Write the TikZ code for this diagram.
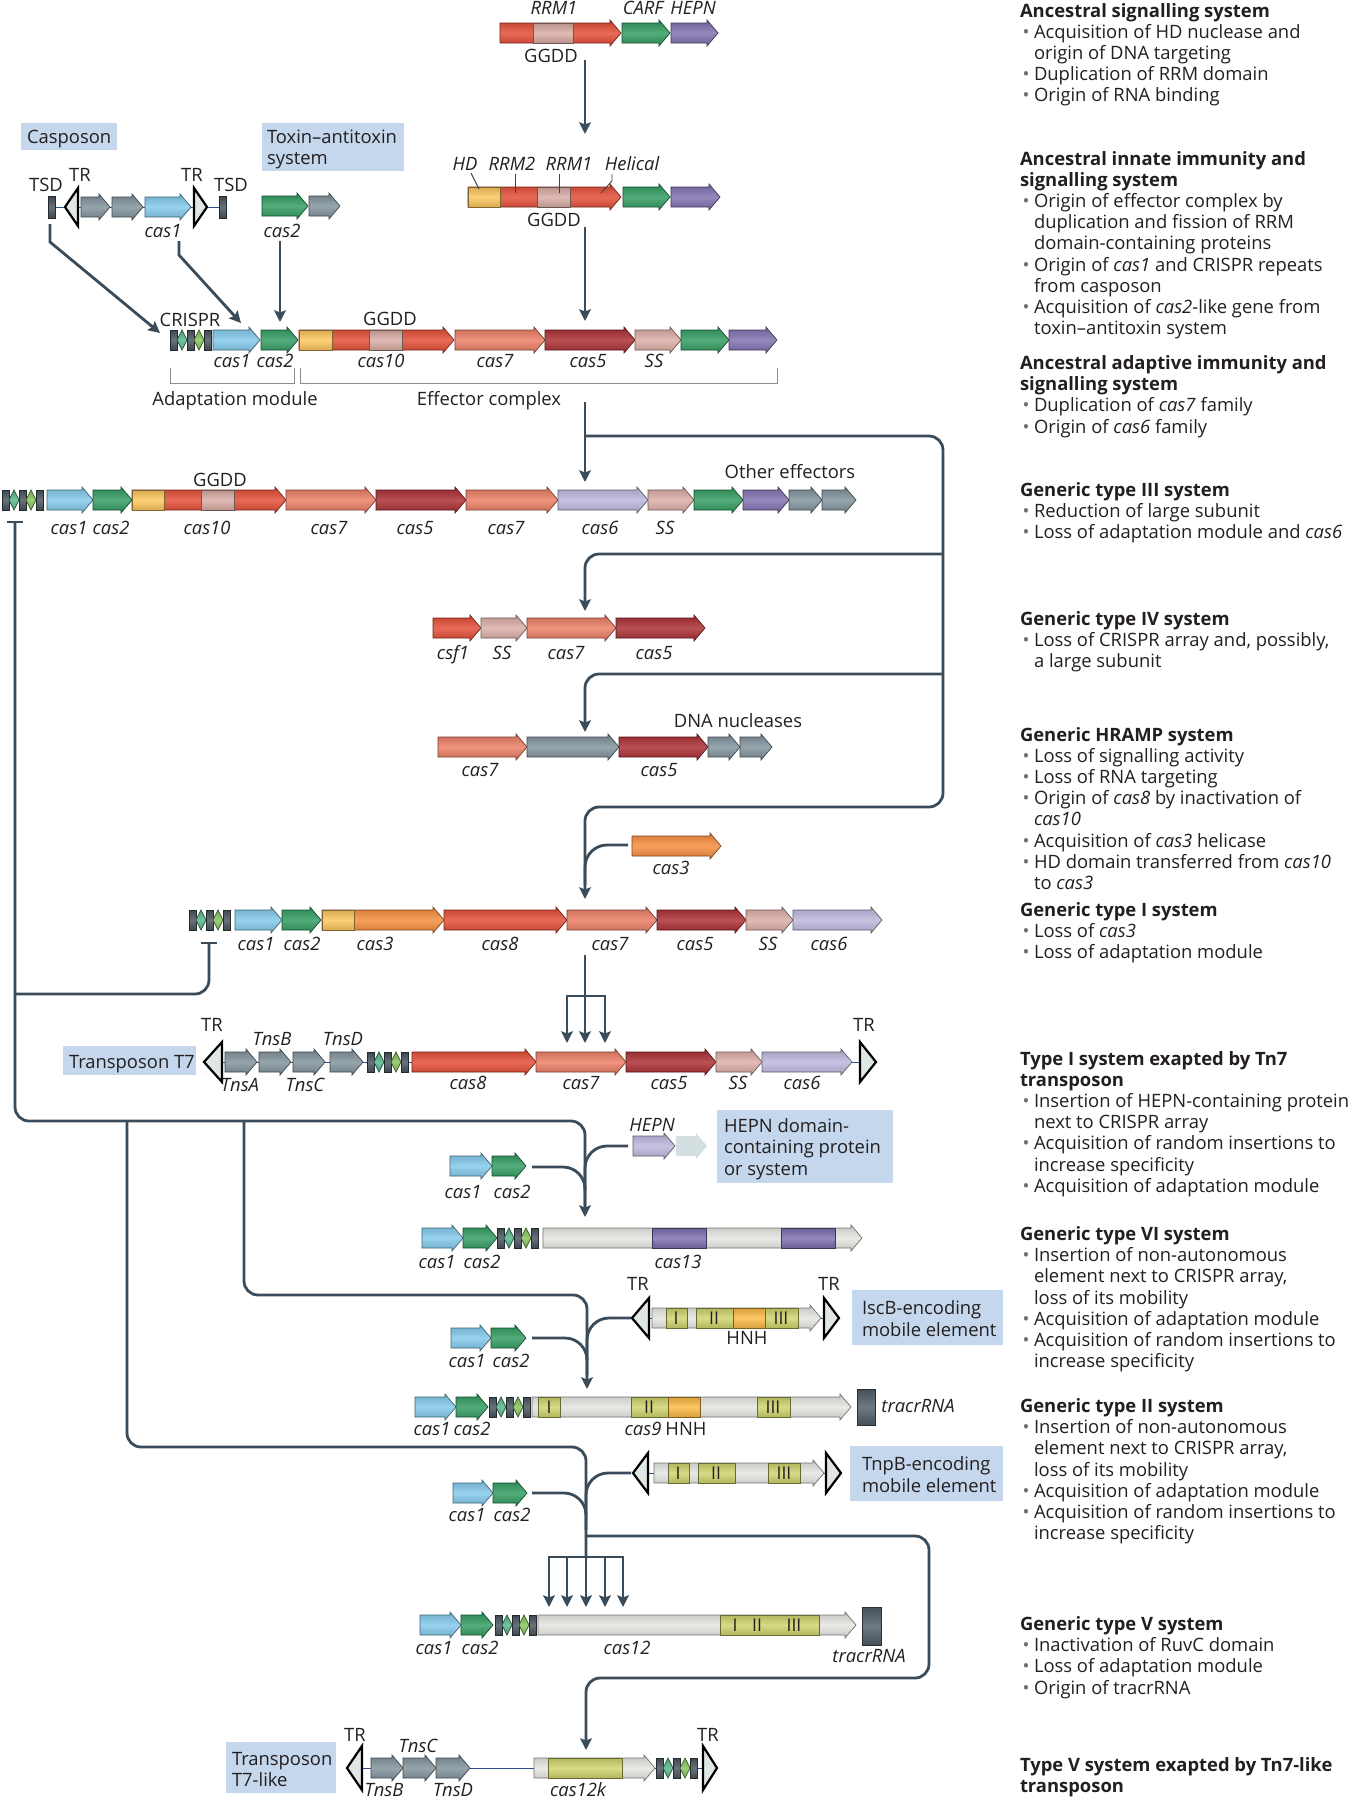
\documentclass[tikz,border=0pt]{standalone}
\usepackage{fontspec}
\setmainfont{Open Sans}
\usetikzlibrary{arrows.meta}
\definecolor{cblue}{HTML}{80C8EA}
\definecolor{cgreen}{HTML}{2E9A5E}
\definecolor{cyellow}{HTML}{FDC65C}
\definecolor{cred}{HTML}{E24A33}
\definecolor{cpink}{HTML}{DAABA4}
\definecolor{csalmon}{HTML}{EA7B62}
\definecolor{cdark}{HTML}{A92B2F}
\definecolor{cpurple}{HTML}{7D6EAE}
\definecolor{clav}{HTML}{BDB6DC}
\definecolor{cgrey}{HTML}{7F909A}
\definecolor{corange}{HTML}{F58B3A}
\definecolor{clight}{HTML}{E4E4E0}
\definecolor{cyg}{HTML}{CFD46C}
\definecolor{chnh}{HTML}{FCBA44}
\definecolor{cbar}{HTML}{46535C}
\definecolor{cdiaA}{HTML}{55B68A}
\definecolor{cdiaB}{HTML}{84C35C}
\definecolor{ctrac}{HTML}{4E5D68}
\definecolor{cbox}{HTML}{C4D7EC}
\definecolor{cline}{HTML}{3A4C59}
\definecolor{ctri}{HTML}{DFE6E4}
\definecolor{cghost}{HTML}{D3DFE0}
\definecolor{cdna}{HTML}{2D4D8E}
\definecolor{cbul}{HTML}{6E6E6E}
\definecolor{ctext}{HTML}{231F20}
\newcommand\fs{\fontsize{9.2}{10.6}\selectfont}
\newcounter{nn}
\tikzset{
  every node/.style={inner sep=0pt, outer sep=0pt, font=\fs, text=ctext},
  gl/.style={font=\fs\itshape},
  hd/.style={font=\fs\bfseries},
  gs/.style={top color=#1!86!black, bottom color=#1!86!black, middle color=#1!82!white, draw=#1!50!black, line width=0.35pt},
  ghost/.style={fill=cghost},
  conn/.style={draw=cline, line width=1.4pt, rounded corners=7pt},
  joinl/.style={draw=cline, line width=1.4pt, rounded corners=11pt},
  tip/.style={-{Stealth[length=5.8pt,width=5.8pt,inset=1pt]}},
  brk/.style={draw=black!45, line width=0.5pt},
  lead/.style={draw=black!75, line width=0.45pt},
  dna/.style={draw=cdna, line width=0.5pt},
  trs/.style={fill=ctri, draw=black, line width=1.1pt},
  numr/.style={font=\fontsize{8.8}{9}\selectfont},
}
% gene arrow: x1, tip x, y, colour
\newcommand\gene[4]{\path[gs=#4] (#1,#3-10) -- (#2-11,#3-10) -- (#2-11,#3-13) -- (#2,#3) -- (#2-11,#3+13) -- (#2-11,#3+10) -- (#1,#3+10) -- cycle;}
\newcommand\dom[4]{\path[gs=#4] (#1,#3-10) rectangle (#2,#3+10);}
\newcommand\crarr[2]{%
  \path[gs=cbar] (#1,#2-10) rectangle (#1+7,#2+10);
  \path[gs=cdiaA] (#1+7,#2) -- (#1+12,#2-10) -- (#1+17,#2) -- (#1+12,#2+10) -- cycle;
  \path[gs=cbar] (#1+17,#2-10) rectangle (#1+24,#2+10);
  \path[gs=cdiaB] (#1+24,#2) -- (#1+29,#2-10) -- (#1+34,#2) -- (#1+29,#2+10) -- cycle;
  \path[gs=cbar] (#1+34,#2-10) rectangle (#1+41,#2+10);}
\newcommand\trL[4]{\path[trs] (#1,#2) -- (#1+#3,#2-#4) -- (#1+#3,#2+#4) -- cycle;}
\newcommand\trR[4]{\path[trs] (#1,#2) -- (#1-#3,#2-#4) -- (#1-#3,#2+#4) -- cycle;}
\newcommand\tsd[2]{\path[gs=cbar] (#1,#2-11) rectangle (#1+7,#2+11);}
\newcommand\il[3]{\stepcounter{nn}\node[gl,anchor=base] (n\arabic{nn}) at (#1,#2+6.5) {#3};}
\newcommand\ul[3]{\stepcounter{nn}\node[anchor=base] (n\arabic{nn}) at (#1,#2+6.5) {#3};}
\newcommand\tl[3]{\stepcounter{nn}\node[anchor=base west] (n\arabic{nn}) at (#1,#2) {#3};}
\newcommand\nr[3]{\stepcounter{nn}\node[numr] (n\arabic{nn}) at (#1,#2) {#3};}
\newcommand\hdl[2]{\stepcounter{nn}\node[hd,anchor=base west] (n\arabic{nn}) at (1020,#1) {#2};}
\newcommand\bul[2]{\stepcounter{nn}\node[anchor=base,text=cbul] (b\arabic{nn}) at (1026,#1) {\textbullet};\node[anchor=base west] (n\arabic{nn}) at (1034,#1) {#2};}
\newcommand\con[2]{\stepcounter{nn}\node[anchor=base west] (n\arabic{nn}) at (1034,#1) {#2};}
\begin{document}
\begin{tikzpicture}[x=0.5pt,y=-0.5pt]
\useasboundingbox (0,0) rectangle (1352,1800);
\fill[white] (0,0) rectangle (1352,1800);

% ---------- top row ----------
\gene{500}{621}{33}{cred}\dom{533}{573}{33}{cpink}
\gene{622}{670}{33}{cgreen}\gene{671}{718}{33}{cpurple}
\il{554}{8}{RRM1}\il{643}{8}{CARF}\il{693}{8}{HEPN}\ul{551}{56}{GGDD}

% ---------- second row ----------
\gene{468}{621}{197}{cred}\dom{468}{500}{197}{cyellow}\dom{537}{570}{197}{cpink}
\gene{623}{670}{197}{cgreen}\gene{671}{720}{197}{cpurple}
\il{465}{164}{HD}\il{512}{164}{RRM2}\il{569}{164}{RRM1}\il{632}{164}{Helical}\ul{554}{220}{GGDD}
\draw[lead] (471,173) -- (479,189);
\draw[lead] (515,174) -- (515,193);
\draw[lead] (559,174) -- (559,193);
\draw[lead] (612,174) -- (612,181) -- (601,193);

% ---------- casposon / toxin ----------
\fill[cbox] (21,123) rectangle (117,150);
\tl{27}{143}{Casposon}
\fill[cbox] (262,123) rectangle (404,171);
\tl{267}{143}{Toxin–antitoxin}
\tl{267}{164}{system}
\draw[dna] (55,207) -- (219,207);
\tsd{48}{207}\trL{65}{207}{13}{19}
\gene{81}{110}{207}{cgrey}\gene{112}{143}{207}{cgrey}\gene{145}{191}{207}{cblue}
\trR{207}{207}{13}{19}\tsd{219}{207}
\ul{46}{185}{TSD}\ul{80}{175}{TR}\ul{192}{175}{TR}\ul{231}{185}{TSD}\il{163}{231}{cas1}
\gene{262}{308}{206}{cgreen}\gene{309}{340}{206}{cgrey}\il{282}{231}{cas2}

% ---------- ancestral main row ----------
\crarr{170}{340}
\gene{213}{260}{340}{cblue}\gene{261}{298}{340}{cgreen}
\gene{299}{454}{340}{cred}\dom{299}{332}{340}{cyellow}\dom{369}{402}{340}{cpink}
\gene{455}{545}{340}{csalmon}\gene{545}{635}{340}{cdark}\gene{635}{681}{340}{cpink}
\gene{681}{729}{340}{cgreen}\gene{729}{777}{340}{cpurple}
\ul{190}{320}{CRISPR}\ul{390}{319}{GGDD}
\il{232}{361}{cas1}\il{275}{361}{cas2}\il{381}{361}{cas10}\il{495}{361}{cas7}\il{588}{361}{cas5}\il{654}{361}{SS}
\draw[brk] (170,368) -- (170,383) -- (294,383) -- (294,368);
\draw[brk] (300,368) -- (300,383) -- (777,383) -- (777,368);
\ul{235}{399}{Adaptation module}\ul{489}{399}{Effector complex}

% ---------- type III ----------
\crarr{2}{500}
\gene{47}{93}{500}{cblue}\gene{93}{132}{500}{cgreen}
\gene{132}{286}{500}{cred}\dom{132}{164}{500}{cyellow}\dom{201}{234}{500}{cpink}
\gene{286}{376}{500}{csalmon}\gene{376}{466}{500}{cdark}\gene{466}{558}{500}{csalmon}
\gene{558}{648}{500}{clav}\gene{648}{694}{500}{cpink}\gene{694}{743}{500}{cgreen}
\gene{743}{789}{500}{cpurple}\gene{789}{822}{500}{cgrey}\gene{822}{856}{500}{cgrey}
\ul{220}{480}{GGDD}\ul{790}{472}{Other effectors}
\il{69}{528}{cas1}\il{111}{528}{cas2}\il{207}{528}{cas10}\il{329}{528}{cas7}\il{415}{528}{cas5}\il{506}{528}{cas7}\il{600}{528}{cas6}\il{665}{528}{SS}

% ---------- type IV ----------
\gene{433}{481}{628}{cred}\gene{481}{527}{628}{cpink}\gene{527}{616}{628}{csalmon}\gene{616}{705}{628}{cdark}
\il{453}{653}{csf1}\il{502}{653}{SS}\il{566}{653}{cas7}\il{654}{653}{cas5}

% ---------- HRAMP ----------
\gene{438}{527}{747}{csalmon}\gene{527}{619}{747}{cgrey}\gene{619}{708}{747}{cdark}
\gene{708}{740}{747}{cgrey}\gene{740}{772}{747}{cgrey}
\il{480}{770}{cas7}\il{659}{770}{cas5}\ul{738}{721}{DNA nucleases}

% ---------- cas3 ----------
\gene{632}{721}{846}{corange}\il{671}{868}{cas3}

% ---------- type I ----------
\crarr{189}{920}
\gene{235}{282}{920}{cblue}\gene{282}{321}{920}{cgreen}
\gene{322}{444}{920}{corange}\dom{322}{354}{920}{cyellow}
\gene{444}{567}{920}{cred}\gene{567}{657}{920}{csalmon}\gene{657}{746}{920}{cdark}
\gene{746}{793}{920}{cpink}\gene{793}{882}{920}{clav}
\il{256}{944}{cas1}\il{302}{944}{cas2}\il{375}{944}{cas3}\il{500}{944}{cas8}\il{610}{944}{cas7}\il{695}{944}{cas5}\il{768}{944}{SS}\il{829}{944}{cas6}

% ---------- Tn7 ----------
\fill[cbox] (63,1046) rectangle (196,1075);
\tl{69}{1068}{Transposon T7}
\draw[dna] (204,1062) -- (876,1062);
\trL{204}{1062}{18}{20}
\gene{225}{257}{1062}{cgrey}\gene{259}{291}{1062}{cgrey}\gene{293}{325}{1062}{cgrey}\gene{330}{363}{1062}{cgrey}
\crarr{367}{1062}
\gene{412}{536}{1062}{cred}\gene{536}{626}{1062}{csalmon}\gene{626}{716}{1062}{cdark}
\gene{716}{762}{1062}{cpink}\gene{762}{852}{1062}{clav}
\trR{876}{1062}{16}{20}
\ul{212}{1025}{TR}\ul{864}{1025}{TR}
\il{272}{1039}{TnsB}\il{343}{1039}{TnsD}\il{240}{1085}{TnsA}\il{305}{1085}{TnsC}
\il{468}{1083}{cas8}\il{581}{1083}{cas7}\il{669}{1083}{cas5}\il{738}{1083}{SS}\il{802}{1083}{cas6}

% ---------- HEPN ----------
\gene{633}{675}{1146}{clav}
\path[ghost] (676,1136) -- (696,1136) -- (696,1133) -- (707,1146) -- (696,1159) -- (696,1156) -- (676,1156) -- cycle;
\il{652}{1125}{HEPN}
\fill[cbox] (717,1110) rectangle (893,1183);
\tl{724}{1132}{HEPN domain-}\tl{724}{1153}{containing protein}\tl{724}{1175}{or system}
\gene{450}{492}{1166}{cblue}\gene{492}{526}{1166}{cgreen}
\il{463}{1192}{cas1}\il{512}{1192}{cas2}

% ---------- type VI ----------
\gene{422}{463}{1238}{cblue}\gene{463}{497}{1238}{cgreen}\crarr{497}{1238}
\gene{543}{862}{1238}{clight}\dom{652}{706}{1238}{cpurple}\dom{781}{835}{1238}{cpurple}
\il{437}{1262}{cas1}\il{482}{1262}{cas2}\il{678}{1262}{cas13}

% ---------- IscB ----------
\draw[dna] (632,1318) -- (839,1318);
\trL{632}{1318}{17}{20}
\gene{652}{821}{1318}{clight}\dom{666}{687}{1318}{cyg}\dom{696}{733}{1318}{cyg}\dom{733}{765}{1318}{chnh}\dom{765}{798}{1318}{cyg}
\trR{839}{1318}{15}{20}
\nr{676}{1318}{I}\nr{714}{1318}{II}\nr{781}{1318}{III}
\ul{638}{1284}{TR}\ul{829}{1284}{TR}\ul{747}{1338}{HNH}
\fill[cbox] (852,1290) rectangle (1003,1345);
\tl{862}{1314}{IscB-encoding}\tl{862}{1336}{mobile element}
\gene{451}{491}{1338}{cblue}\gene{491}{526}{1338}{cgreen}
\il{467}{1361}{cas1}\il{511}{1361}{cas2}

% ---------- type II ----------
\gene{415}{456}{1407}{cblue}\gene{456}{488}{1407}{cgreen}\crarr{489}{1407}
\gene{532}{851}{1407}{clight}\dom{538}{560}{1407}{cyg}\dom{631}{668}{1407}{cyg}\dom{668}{700}{1407}{chnh}\dom{757}{790}{1407}{cyg}
\nr{549}{1407}{I}\nr{649}{1407}{II}\nr{773}{1407}{III}
\path[gs=ctrac] (857,1389) rectangle (875,1425);
\il{432}{1429}{cas1}\il{472}{1429}{cas2}\il{643}{1429}{cas9}\ul{686}{1429}{HNH}\il{918}{1406}{tracrRNA}

% ---------- TnpB ----------
\draw[dna] (633,1473) -- (841,1473);
\trL{633}{1473}{15}{20}
\gene{654}{824}{1473}{clight}\dom{668}{689}{1473}{cyg}\dom{698}{735}{1473}{cyg}\dom{768}{800}{1473}{cyg}
\trR{841}{1473}{15}{20}
\nr{678}{1473}{I}\nr{716}{1473}{II}\nr{784}{1473}{III}
\fill[cbox] (850,1446) rectangle (1003,1501);
\tl{862}{1470}{TnpB-encoding}\tl{862}{1492}{mobile element}
\gene{453}{493}{1493}{cblue}\gene{493}{527}{1493}{cgreen}
\il{467}{1515}{cas1}\il{512}{1515}{cas2}

% ---------- type V ----------
\gene{420}{461}{1625}{cblue}\gene{461}{493}{1625}{cgreen}\crarr{495}{1625}
\gene{538}{856}{1625}{clight}\dom{720}{819}{1625}{cyg}
\nr{735}{1625}{I}\nr{757}{1625}{II}\nr{794}{1625}{III}
\path[gs=ctrac] (862,1607) rectangle (881,1645);
\il{434}{1648}{cas1}\il{480}{1648}{cas2}\il{627}{1648}{cas12}\il{869}{1656}{tracrRNA}

% ---------- Tn7-like ----------
\fill[cbox] (226,1742) rectangle (336,1793);
\tl{232}{1765}{Transposon}\tl{232}{1786}{T7-like}
\draw[dna] (347,1768) -- (717,1768);
\trL{347}{1768}{15}{22}
\gene{371}{403}{1768}{cgrey}\gene{403}{436}{1768}{cgrey}\gene{436}{470}{1768}{cgrey}
\gene{534}{655}{1768}{clight}\dom{548}{622}{1768}{cyg}
\crarr{656}{1768}
\trR{717}{1768}{14}{22}
\ul{355}{1735}{TR}\ul{708}{1735}{TR}
\il{418}{1746}{TnsC}\il{384}{1790}{TnsB}\il{453}{1790}{TnsD}\il{578}{1790}{cas12k}

% ---------- connectors ----------
\draw[conn,tip] (585,60) -- (585,134);
\draw[conn,tip] (585,227) -- (585,321);
\draw[conn,tip,sharp corners] (50,224) -- (50,242) -- (160,333);
\draw[conn,tip,sharp corners] (179,241) -- (179,255) -- (241,323);
\draw[conn,tip] (280,241) -- (280,322);
\draw[conn,tip] (585,402) -- (585,482);
\draw[conn,tip] (585,436) -- (943,436) -- (943,807) -- (585,807) -- (585,899);
\draw[conn,tip] (943,554) -- (585,554) -- (585,611);
\draw[conn,tip] (943,674) -- (585,674) -- (585,732);
\draw[joinl] (628,845) -- (585,845) -- (585,885);
\draw[conn] (585,955) -- (585,996);
\draw[conn,tip,sharp corners] (585,996) -| (567,1043);
\draw[conn,tip,sharp corners] (585,996) -| (605,1043);
\draw[conn,tip] (585,996) -- (585,1043);
% inhibition and lower network
\draw[conn,sharp corners] (7,522) -- (23,522);
\draw[conn,tip] (15,522) -- (15,1121) -- (585,1121) -- (585,1217);
\draw[conn,sharp corners] (201,943) -- (217,943);
\draw[conn] (209,943) -- (209,994) -- (15,994);
\draw[conn] (127,1121) -- (127,1447) -- (586,1447) -- (586,1557);
\draw[conn,tip] (244,1121) -- (244,1295) -- (587,1295) -- (587,1389);
\draw[joinl] (532,1167) -- (585,1167) -- (585,1205);
\draw[joinl] (628,1146) -- (585,1146) -- (585,1190);
\draw[joinl] (532,1338) -- (587,1338) -- (587,1375);
\draw[joinl] (631,1318) -- (587,1318) -- (587,1360);
\draw[joinl] (532,1493) -- (586,1493) -- (586,1530);
\draw[joinl] (631,1473) -- (586,1473) -- (586,1515);
\draw[conn,tip,sharp corners] (586,1557) -| (549,1607);
\draw[conn,tip,sharp corners] (586,1557) -| (623,1607);
\draw[conn,tip] (567,1557) -- (567,1607);
\draw[conn,tip] (586,1557) -- (586,1607);
\draw[conn,tip] (605,1557) -- (605,1607);
\draw[conn,tip] (586,1536) -- (929,1536) -- (929,1678) -- (586,1678) -- (586,1750);

% ---------- right column ----------
\hdl{17}{Ancestral signalling system}
\bul{38.2}{Acquisition of HD nuclease and}
\con{59.4}{origin of DNA targeting}
\bul{80.6}{Duplication of RRM domain}
\bul{101.8}{Origin of RNA binding}

\hdl{165}{Ancestral innate immunity and}
\hdl{186.2}{signalling system}
\bul{207.4}{Origin of effector complex by}
\con{228.6}{duplication and fission of RRM}
\con{249.8}{domain-containing proteins}
\bul{271}{Origin of \textit{cas1} and CRISPR repeats}
\con{292.2}{from casposon}
\bul{313.4}{Acquisition of \textit{cas2}-like gene from}
\con{334.6}{toxin–antitoxin system}

\hdl{369.5}{Ancestral adaptive immunity and}
\hdl{390.7}{signalling system}
\bul{411.9}{Duplication of \textit{cas7} family}
\bul{433.1}{Origin of \textit{cas6} family}

\hdl{496.5}{Generic type III system}
\bul{517.7}{Reduction of large subunit}
\bul{538.9}{Loss of adaptation module and \textit{cas6}}

\hdl{625.5}{Generic type IV system}
\bul{646.7}{Loss of CRISPR array and, possibly,}
\con{667.9}{a large subunit}

\hdl{741}{Generic HRAMP system}
\bul{762.2}{Loss of signalling activity}
\bul{783.4}{Loss of RNA targeting}
\bul{804.6}{Origin of \textit{cas8} by inactivation of}
\con{825.8}{\textit{cas10}}
\bul{847}{Acquisition of \textit{cas3} helicase}
\bul{868.2}{HD domain transferred from \textit{cas10}}
\con{889.4}{to \textit{cas3}}

\hdl{916.5}{Generic type I system}
\bul{937.7}{Loss of \textit{cas3}}
\bul{958.9}{Loss of adaptation module}

\hdl{1065}{Type I system exapted by Tn7}
\hdl{1086.2}{transposon}
\bul{1107.4}{Insertion of HEPN-containing protein}
\con{1128.6}{next to CRISPR array}
\bul{1149.8}{Acquisition of random insertions to}
\con{1171}{increase specificity}
\bul{1192.2}{Acquisition of adaptation module}

\hdl{1240.5}{Generic type VI system}
\bul{1261.7}{Insertion of non-autonomous}
\con{1282.9}{element next to CRISPR array,}
\con{1304.1}{loss of its mobility}
\bul{1325.3}{Acquisition of adaptation module}
\bul{1346.5}{Acquisition of random insertions to}
\con{1367.7}{increase specificity}

\hdl{1412.5}{Generic type II system}
\bul{1433.7}{Insertion of non-autonomous}
\con{1454.9}{element next to CRISPR array,}
\con{1476.1}{loss of its mobility}
\bul{1497.3}{Acquisition of adaptation module}
\bul{1518.5}{Acquisition of random insertions to}
\con{1539.7}{increase specificity}

\hdl{1630.5}{Generic type V system}
\bul{1651.7}{Inactivation of RuvC domain}
\bul{1672.9}{Loss of adaptation module}
\bul{1694.1}{Origin of tracrRNA}

\hdl{1771.5}{Type V system exapted by Tn7-like}
\hdl{1792.7}{transposon}
\end{tikzpicture}
\end{document}
